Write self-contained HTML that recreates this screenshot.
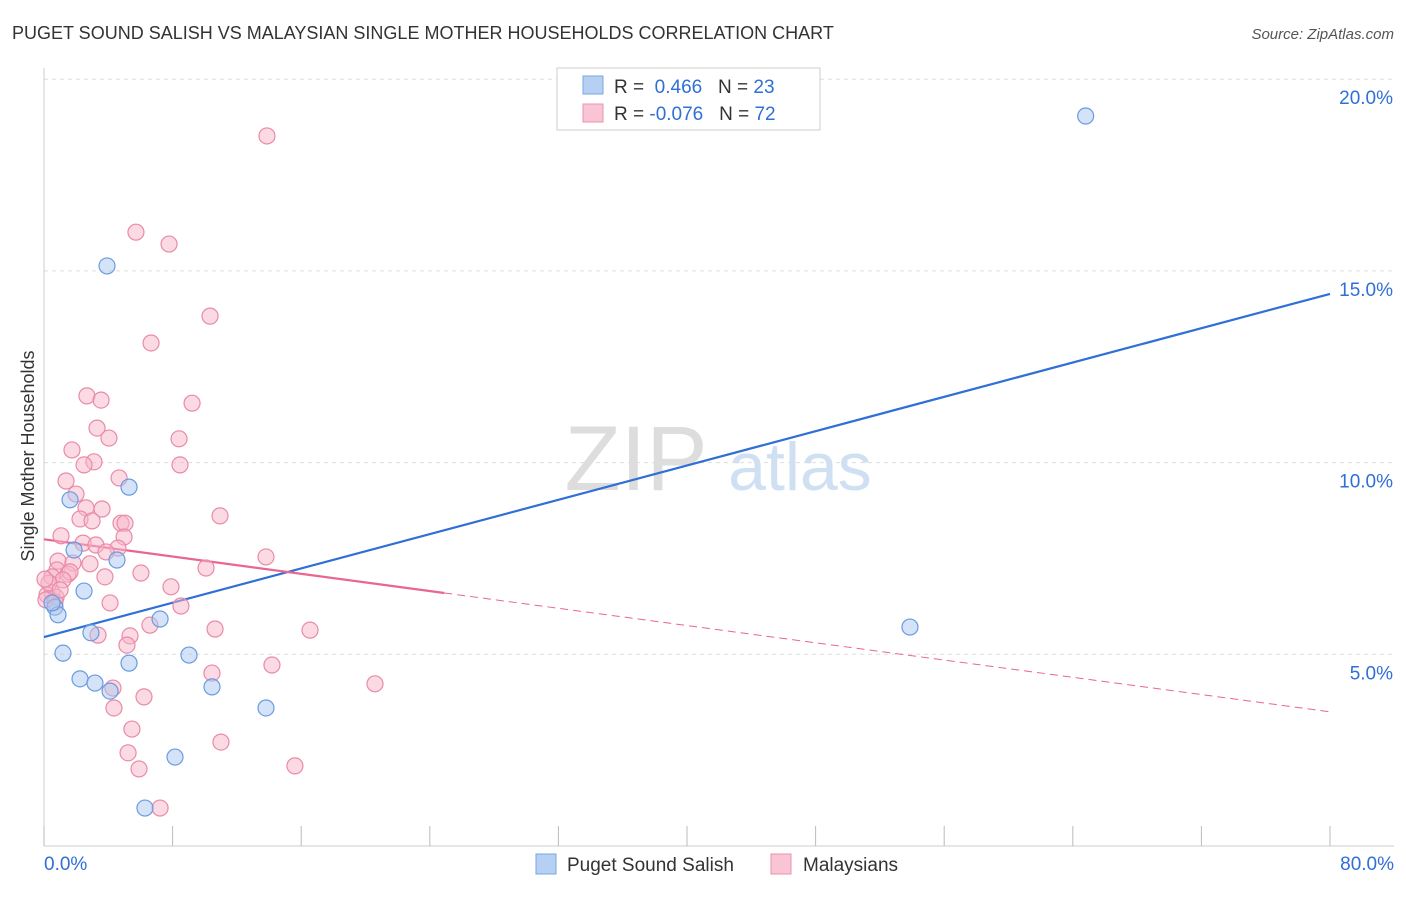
<!DOCTYPE html>
<html><head><meta charset="utf-8"><style>
body{margin:0;background:#fff;font-family:"Liberation Sans",sans-serif}
svg text{font-family:"Liberation Sans",sans-serif}
</style></head><body>
<svg id="c" width="1406" height="892" xmlns="http://www.w3.org/2000/svg">
<text x="12" y="39" font-size="18" fill="#333">PUGET SOUND SALISH VS MALAYSIAN SINGLE MOTHER HOUSEHOLDS CORRELATION CHART</text>
<text x="1394" y="39" font-size="15" fill="#555" font-style="italic" text-anchor="end">Source: ZipAtlas.com</text>
<text x="34" y="456" font-size="18" fill="#333" text-anchor="middle" transform="rotate(-90 34 456)">Single Mother Households</text>
<g><text x="636" y="490" font-size="92" fill="#ddd" font-family="Liberation Serif" text-anchor="middle">ZIP</text><text x="800" y="490" font-size="68" fill="#cfe0f3" text-anchor="middle">atlas</text></g>
<g id="grid"></g><g id="axes"></g><g id="lines"></g><g id="pts"></g>
<g>
<rect x="557" y="68" width="263" height="62" fill="#fff" stroke="#ccc"/>
<rect x="583" y="76" width="20" height="18" fill="#b5d0f3" stroke="#7aa7e0"/>
<text x="614" y="93" font-size="19" fill="#333">R = <tspan fill="#2f6fd6">&#160;0.466</tspan>&#160;&#160;&#160;N = <tspan fill="#2f6fd6">23</tspan></text>
<rect x="583" y="104" width="20" height="18" fill="#f9c5d4" stroke="#eb93ae"/>
<text x="614" y="120" font-size="19" fill="#333">R = <tspan fill="#2f6fd6">-0.076</tspan>&#160;&#160;&#160;N = <tspan fill="#2f6fd6">72</tspan></text>
</g>
<g>
<rect x="536" y="854" width="20" height="20" fill="#b5d0f3" stroke="#7aa7e0"/>
<text x="567" y="871" font-size="19" fill="#333">Puget Sound Salish</text>
<rect x="771" y="854" width="20" height="20" fill="#f9c5d4" stroke="#eb93ae"/>
<text x="803" y="871" font-size="19" fill="#333">Malaysians</text>
</g>
</svg>
<script>
const blueX=[3.92,64.8,5.29,1.62,1.87,4.54,2.49,0.68,0.87,0.50,2.92,7.22,1.18,5.29,9.02,2.24,3.17,4.11,10.45,13.81,8.15,6.28,53.87];
const blueY=[15.13,19.04,9.36,9.03,7.72,7.46,6.65,6.23,6.03,6.34,5.56,5.92,5.03,4.77,4.98,4.36,4.25,4.04,4.15,3.60,2.32,0.99,5.71];
const pinkX=[13.87,5.72,7.78,10.33,6.66,2.67,3.55,9.21,3.30,4.04,8.40,1.74,3.11,2.49,8.46,4.67,1.37,1.99,2.61,3.61,10.95,2.24,2.99,4.79,5.04,1.06,4.98,2.43,3.23,4.60,3.86,13.81,0.87,1.80,2.86,10.08,0.81,1.49,6.03,1.62,0.50,3.79,1.18,7.90,0.50,0.75,0.19,4.11,8.52,6.59,10.64,16.55,3.36,5.35,5.16,14.18,10.45,4.29,20.59,6.22,4.35,5.47,11.01,5.23,15.61,5.91,7.22,0.12,0.31,0.68,0.06,1.00];
const pinkY=[18.52,16.01,15.70,13.82,13.12,11.74,11.63,11.55,10.90,10.64,10.62,10.33,10.02,9.94,9.94,9.60,9.52,9.18,8.82,8.79,8.61,8.53,8.48,8.42,8.42,8.09,8.06,7.90,7.85,7.77,7.67,7.54,7.43,7.38,7.36,7.25,7.20,7.09,7.12,7.15,7.02,7.02,6.94,6.76,6.60,6.49,6.55,6.34,6.26,5.76,5.66,5.63,5.50,5.48,5.24,4.72,4.51,4.12,4.23,3.89,3.60,3.05,2.71,2.43,2.09,2.01,0.99,6.42,6.86,6.36,6.96,6.68];
const yTicks=[5,10,15,20];
const xTickLabels=["0.0%","80.0%"];
const blueFit=[5.45,14.4];
const pinkFit=[8.0,3.5];
const pinkSolidEnd=24.9;
const NS="http://www.w3.org/2000/svg";
const sx=v=>44+v*(1330-44)/80, sy=v=>846-v*38.34;
function mk(t,a,p){const e=document.createElementNS(NS,t);for(const k in a)e.setAttribute(k,a[k]);document.getElementById(p).appendChild(e);return e;}
yTicks.forEach(v=>{
 const l=mk('line',{x1:44,x2:1394,y1:sy(v),y2:sy(v),stroke:'#ddd','stroke-dasharray':'4,4'},'grid');
 
 
 const t=mk('text',{x:1393,y:sy(v)+25,'font-size':19,fill:'#2f6fd6','text-anchor':'end'},'grid');t.textContent=v.toFixed(1)+'%';
 
 
});
mk('line',{x1:44,x2:44,y1:68,y2:846,stroke:'#ccc'},'axes');
mk('line',{x1:44,x2:1394,y1:846,y2:846,stroke:'#ccc'},'axes');
for(let i=0;i<=10;i++){const t=mk('line',{x1:sx(i*8),x2:sx(i*8),y1:826,y2:846,stroke:'#bbb'},'axes');
 
 }
const x0=mk('text',{x:44,y:870,'font-size':19,fill:'#2f6fd6'},'axes');x0.textContent=xTickLabels[0];


const x1=mk('text',{x:1394,y:870,'font-size':19,fill:'#2f6fd6','text-anchor':'end'},'axes');x1.textContent=xTickLabels[1];


function dot(x,y,f,s,n){const c=mk('circle',{cx:sx(x),cy:sy(y),r:8,fill:f,'fill-opacity':0.5,stroke:s,'stroke-width':1.2},'pts');
 
 }
pinkX.forEach((x,i)=>dot(x,pinkY[i],'#f7b5c9','#e98aa8','malaysians-point'));
blueX.forEach((x,i)=>dot(x,blueY[i],'#a9c8f0','#6a9be0','puget-sound-salish-point'));
const pf=x=>pinkFit[0]+(pinkFit[1]-pinkFit[0])*x/80;
const bl=mk('line',{x1:sx(0),y1:sy(blueFit[0]),x2:sx(80),y2:sy(blueFit[1]),stroke:'#2f6fd6','stroke-width':2.2},'lines');


const pl=mk('line',{x1:sx(0),y1:sy(pf(0)),x2:sx(pinkSolidEnd),y2:sy(pf(pinkSolidEnd)),stroke:'#e8668f','stroke-width':2.2},'lines');


const pd=mk('line',{x1:sx(pinkSolidEnd),y1:sy(pf(pinkSolidEnd)),x2:sx(80),y2:sy(pf(80)),stroke:'#e8668f','stroke-width':1,'stroke-dasharray':'8,5'},'lines');


</script>
</body></html>
